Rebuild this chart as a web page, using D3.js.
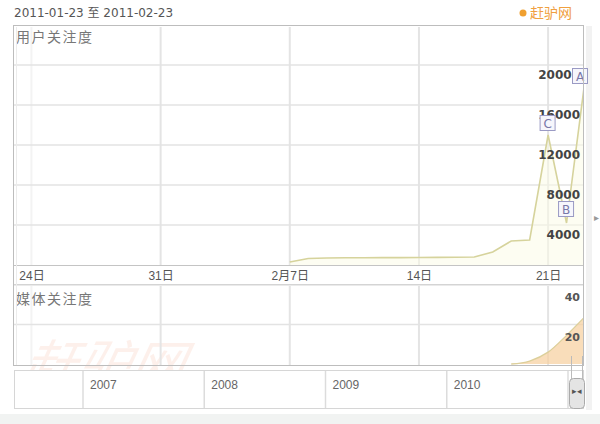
<!DOCTYPE html>
<html><head><meta charset="utf-8">
<script src="https://cdn.jsdelivr.net/npm/d3@7/dist/d3.min.js"></script>
<style>body{margin:0;background:#fff} svg{display:block}</style>
</head><body><svg id="c" width="600" height="424"></svg>
<script>
// ---- data ----
const rangeStart = "2011-01-23";
const rangeEnd = "2011-02-23";
const userDates = ["2011-02-07","2011-02-08","2011-02-09","2011-02-10","2011-02-11","2011-02-12","2011-02-13","2011-02-14","2011-02-15","2011-02-16","2011-02-17","2011-02-18","2011-02-19","2011-02-20","2011-02-21","2011-02-22","2011-02-23"];
const userValues = [300,650,700,720,730,740,740,750,760,780,800,1300,2400,2500,13000,4200,18500];
const mediaDates = ["2011-02-19","2011-02-20","2011-02-21","2011-02-22","2011-02-23"];
const mediaValues = [0,1.5,6,14.5,24];
const userTicks = [4000,8000,12000,16000,20000];
const mediaTicks = [20,40];
const dayTicks = ["2011-01-24","2011-01-31","2011-02-07","2011-02-14","2011-02-21"];
const dayTickLabels = ["24日","31日","2月7日","14日","21日"];
const flagLabels = ["A","B","C"];
const flagDates = ["2011-02-23","2011-02-22","2011-02-21"];
const years = [2007,2008,2009,2010];

const parse = d3.timeParse("%Y-%m-%d");
const svg = d3.select("#c");

const x = d3.scaleTime().domain([parse(rangeStart), parse(rangeEnd)]).range([13, 585]);
const yU = d3.scaleLinear().domain([0, 20000]).range([265, 65]);
const yM = d3.scaleLinear().domain([0, 40]).range([364, 285]);
const xYear = d3.scaleLinear().domain([2007, 2011]).range([83, 568]);

const cjk = "'Liberation Sans','Noto Sans CJK SC',sans-serif";

// header
svg.append("text").attr("x", 14).attr("y", 17).attr("font-family", "'DejaVu Sans','Noto Sans CJK SC'")
  .attr("font-size", 12).attr("fill", "#555").text(rangeStart + " 至 " + rangeEnd);
svg.append("circle").attr("cx", 523).attr("cy", 13).attr("r", 3.5).attr("fill", "#f0a030");
svg.append("text").attr("x", 530).attr("y", 18).attr("font-family", cjk).attr("font-size", 14)
  .attr("fill", "#f0a040").text("赶驴网");

// right strip and arrow
svg.append("rect").attr("x", 586).attr("y", 26).attr("width", 6).attr("height", 384).attr("fill", "#f2f2f2");
svg.append("text").attr("x", 594).attr("y", 221).attr("font-size", 10).attr("fill", "#999").text("▸");

// clips
const defs = svg.append("defs");
defs.append("clipPath").attr("id", "clipU")
  .append("rect").attr("x", 14).attr("y", 26).attr("width", 569).attr("height", 239);
defs.append("clipPath").attr("id", "clipM")
  .append("rect").attr("x", 14).attr("y", 285).attr("width", 569).attr("height", 80);

// watermark
svg.append("text").attr("x", 25).attr("y", 385).attr("font-family", cjk).attr("font-size", 54)
  .attr("font-style", "italic").attr("fill", "#f08a60").attr("opacity", 0.12)
  .attr("transform", "skewX(-12) translate(75,0)").text("赶驴网");

// vertical grid
const vg = svg.append("g");
dayTicks.forEach((d, i) => {
  const xx = x(parse(d));
  const col = i === 0 ? "#f3f3f3" : "#e4e4e4";
  vg.append("line").attr("x1", xx).attr("x2", xx).attr("y1", 27).attr("y2", 265).attr("stroke", col).attr("stroke-width", 2);
  vg.append("line").attr("x1", xx).attr("x2", xx).attr("y1", 286).attr("y2", 365).attr("stroke", col).attr("stroke-width", 2);
});
// horizontal grid
userTicks.forEach(v => {
  svg.append("line").attr("x1", 14).attr("x2", 583).attr("y1", yU(v)).attr("y2", yU(v))
    .attr("stroke", "#e3e3e3").attr("stroke-width", 1.5);
});
mediaTicks.forEach(v => {
  svg.append("line").attr("x1", 14).attr("x2", 583).attr("y1", yM(v)).attr("y2", yM(v))
    .attr("stroke", "#e3e3e3").attr("stroke-width", 1.5);
});

// panel titles
svg.append("text").attr("x", 16).attr("y", 42).attr("font-family", cjk).attr("font-size", 14)
  .attr("letter-spacing", 1.5).attr("fill", "#777").text("用户关注度");
svg.append("text").attr("x", 16).attr("y", 304).attr("font-family", cjk).attr("font-size", 14)
  .attr("letter-spacing", 1.5).attr("fill", "#777").text("媒体关注度");

// user series
const uData = userDates.map((d, i) => ({ d: parse(d), v: userValues[i] }));
const gU = svg.append("g").attr("clip-path", "url(#clipU)");
gU.append("path").datum(uData)
  .attr("d", d3.area().x(p => x(p.d)).y0(yU(0)).y1(p => yU(p.v)))
  .attr("fill", "#fbfbe6").attr("opacity", 0.5);
gU.append("path").datum(uData)
  .attr("d", d3.line().x(p => x(p.d)).y(p => yU(p.v)))
  .attr("fill", "none").attr("stroke", "#d6d39c").attr("stroke-width", 1.6);

// media series
const mData = mediaDates.map((d, i) => ({ d: parse(d), v: mediaValues[i] }));
const gM = svg.append("g").attr("clip-path", "url(#clipM)");

// y labels
const lblFont = "'DejaVu Sans',sans-serif";
userTicks.forEach(v => {
  svg.append("text").attr("x", 580).attr("y", yU(v) + 14).attr("text-anchor", "end")
    .attr("font-family", lblFont).attr("font-size", 12).attr("font-weight", "bold").attr("fill", "#444").text(v);
});
mediaTicks.forEach(v => {
  svg.append("text").attr("x", 580).attr("y", yM(v) + 16).attr("text-anchor", "end")
    .attr("font-family", lblFont).attr("font-size", 11).attr("font-weight", "bold").attr("fill", "#555").text(v);
});

gM.append("path").datum(mData)
  .attr("d", d3.area().x(p => x(p.d)).y0(yM(0)).y1(p => yM(p.v)).curve(d3.curveMonotoneX))
  .attr("fill", "#f7cf9c").attr("opacity", 0.7);
gM.append("path").datum(mData)
  .attr("d", d3.line().x(p => x(p.d)).y(p => yM(p.v)).curve(d3.curveMonotoneX))
  .attr("fill", "none").attr("stroke", "#dccf9a").attr("stroke-width", 1.3);

// flags
flagLabels.forEach((l, i) => {
  const dt = parse(flagDates[i]);
  const j = userDates.indexOf(flagDates[i]);
  const px = x(dt), py = yU(userValues[j]);
  let bx = px - 8.5, by = py - 20;
  if (l === "A") { bx = Math.min(px - 8.5, 572); by = py - 12; }
  if (l === "B") { by = py - 22; }
  const g = svg.append("g");
  g.append("rect").attr("x", bx + 0.5).attr("y", by + 0.5).attr("width", 15).attr("height", 15)
    .attr("fill", "#f6f6fc").attr("stroke", "#9a9ac4").attr("stroke-width", 1);
  g.append("text").attr("x", bx + 8).attr("y", by + 13).attr("text-anchor", "middle")
    .attr("font-family", "'DejaVu Sans',sans-serif").attr("font-size", 12).attr("fill", "#7878a8").text(l);
});

// box borders
svg.append("rect").attr("x", 13.5).attr("y", 25.5).attr("width", 570).attr("height", 340)
  .attr("fill", "none").attr("stroke", "#bdbdbd");
svg.append("line").attr("x1", 14).attr("x2", 583).attr("y1", 265.5).attr("y2", 265.5).attr("stroke", "#c4c4c4");
svg.append("line").attr("x1", 14).attr("x2", 583).attr("y1", 284.5).attr("y2", 284.5).attr("stroke", "#d4d4d4");
svg.append("line").attr("x1", 16.5).attr("x2", 16.5).attr("y1", 27).attr("y2", 365).attr("stroke", "#ececec");

// date axis
const ax = svg.append("g").attr("transform", "translate(0,266)")
  .call(d3.axisBottom(x).tickValues(dayTicks.map(parse)).tickSize(0).tickFormat((d, i) => dayTickLabels[i]));
ax.select(".domain").remove();
ax.selectAll("text").attr("font-family", cjk).attr("font-size", 12).attr("fill", "#555").attr("dy", "0.95em");

// timeline navigator
svg.append("rect").attr("x", 14.5).attr("y", 370.5).attr("width", 569).attr("height", 38)
  .attr("fill", "#fff").attr("stroke", "#d6d6d6");
years.concat([2011]).forEach(yv => {
  svg.append("line").attr("x1", xYear(yv)).attr("x2", xYear(yv)).attr("y1", 371).attr("y2", 408)
    .attr("stroke", "#dcdcdc").attr("stroke-width", 1.5);
});
years.forEach(yv => {
  svg.append("text").attr("x", xYear(yv) + 7).attr("y", 389).attr("font-family", "'Liberation Sans',sans-serif")
    .attr("font-size", 12).attr("fill", "#666").text(yv);
});
// selection handle
svg.append("line").attr("x1", 571.5).attr("x2", 571.5).attr("y1", 356).attr("y2", 382).attr("stroke", "#bbb");
svg.append("line").attr("x1", 582.5).attr("x2", 582.5).attr("y1", 356).attr("y2", 382).attr("stroke", "#bbb");
svg.append("rect").attr("x", 569.5).attr("y", 378.5).attr("width", 15).attr("height", 30).attr("rx", 4)
  .attr("fill", "#e4e4e4").attr("stroke", "#aaa");
svg.append("text").attr("x", 577).attr("y", 394).attr("text-anchor", "middle").attr("font-size", 9)
  .attr("fill", "#555").text("▸◂");
svg.append("rect").attr("x", 0).attr("y", 414).attr("width", 600).attr("height", 10).attr("fill", "#f1f3f2");
</script></body></html>
